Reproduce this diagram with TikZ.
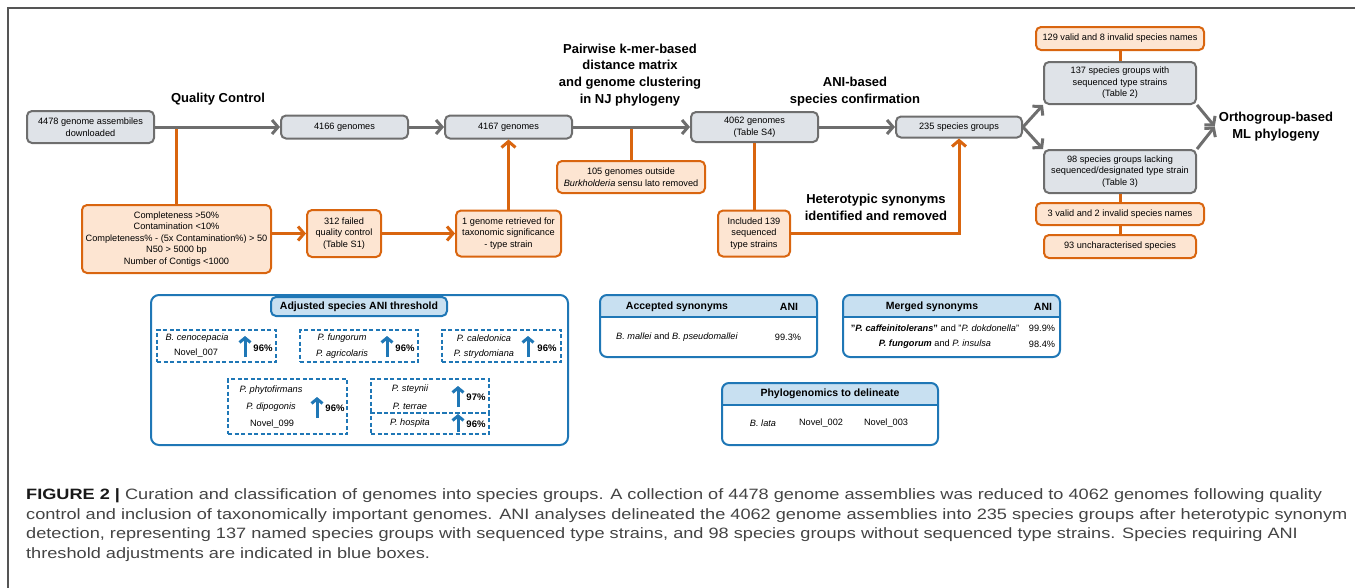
\documentclass[tikz,border=0pt]{standalone}
\usepackage{fontspec}
\setmainfont{Liberation Sans}
\usepackage{graphicx}
\usetikzlibrary{arrows.meta}
\definecolor{gstroke}{HTML}{6E6E6E}
\definecolor{gfill}{HTML}{DFE3E8}
\definecolor{ostroke}{HTML}{D9650F}
\definecolor{ofill}{HTML}{FDE5D2}
\definecolor{bstroke}{HTML}{1F77B6}
\definecolor{bfill}{HTML}{C8E0F1}
\definecolor{capgray}{HTML}{444444}
\definecolor{framecol}{HTML}{555555}
\newlength\capw
\newcommand\capone{\textbf{\color{black!90}FIGURE 2 |} Curation and classification of genomes into species groups. A collection of 4478 genome assemblies was reduced to 4062 genomes following quality}
\newcommand\mytablebox[5]{%
  \begin{scope}
    \clip[rounded corners=7pt] (#1,#2) rectangle (#3,#4);
    \fill[bfill] (#1,#2) rectangle (#3,#5);
  \end{scope}
  \draw[bstroke, line width=2pt] (#1,#5) -- (#3,#5);
  \draw[bstroke, line width=2pt, rounded corners=7pt] (#1,#2) rectangle (#3,#4);}
\tikzset{
  box/.style={rounded corners=5pt, line width=2pt, inner sep=0pt, align=center,
    font=\fontsize{9.2}{11.5}\selectfont},
  gbox/.style={box, draw=gstroke, fill=gfill},
  obox/.style={box, draw=ostroke, fill=ofill},
  garrow/.style={draw=gstroke, line width=3pt, -{Straight Barb[length=6pt,width=14pt]}},
  oline/.style={draw=ostroke, line width=3pt},
  oarrow/.style={oline, -{Straight Barb[length=6pt,width=14pt]}},
  barrow/.style={draw=bstroke, line width=3pt, -{Straight Barb[length=4.5pt,width=11pt]}},
  ttl/.style={font=\fontsize{13}{16.7}\selectfont\bfseries, align=center, inner sep=0pt},
  dbox/.style={draw=bstroke, line width=1.4pt, dash pattern=on 4pt off 2.5pt, inner sep=0pt},
  st/.style={font=\fontsize{9.2}{11}\selectfont, inner sep=0pt},
  it/.style={font=\fontsize{9.2}{11}\selectfont\itshape, inner sep=0pt},
  pct/.style={font=\fontsize{9.5}{11}\selectfont\bfseries, inner sep=0pt},
  hd/.style={font=\fontsize{10.5}{12}\selectfont\bfseries, inner sep=0pt},
  captext/.style={anchor=base west, inner sep=0pt, text=capgray},
}
\begin{document}
\settowidth{\capw}{\fontsize{15}{19}\selectfont\capone}
\pgfmathsetmacro\capsx{1296/\capw}
\begin{tikzpicture}[x=1pt,y=-1pt]
\useasboundingbox (0,0) rectangle (1355,587);
\draw[framecol, line width=1.2pt] (8,590) -- (8,8) -- (1360,8);

% --- top flow ---
\node[gbox, minimum width=127pt, minimum height=32pt] (A) at (90.5,127) {4478 genome assembiles\\downloaded};
\node[gbox, minimum width=127pt, minimum height=23pt] (B) at (344.5,127) {4166 genomes};
\node[gbox, minimum width=127pt, minimum height=23pt] (C) at (508.5,127) {4167 genomes};
\node[gbox, minimum width=127pt, minimum height=30pt] (D) at (754.5,127) {4062 genomes\\(Table S4)};
\node[gbox, minimum width=126pt, minimum height=21pt] (E) at (959,127) {235 species groups};
\node[gbox, minimum width=152pt, minimum height=42pt] (F) at (1120,83) {137 species groups with\\sequenced type strains\\(Table 2)};
\node[gbox, minimum width=152pt, minimum height=43pt] (G) at (1120,171.5) {98 species groups lacking\\sequenced/designated type strain\\(Table 3)};
\node[obox, minimum width=168pt, minimum height=23pt] (T129) at (1120,38.5) {129 valid and 8 invalid species names};
\node[obox, minimum width=168pt, minimum height=22pt] (V3) at (1120,214) {3 valid and 2 invalid species names};
\node[obox, minimum width=152pt, minimum height=23pt] (U93) at (1120,246.5) {93 uncharacterised species};

\node[obox, minimum width=189pt, minimum height=68pt] (QC) at (176.5,239) {Completeness >50\%\\Contamination <10\%\\Completeness\% - (5x Contamination\%) > 50\\N50 > 5000 bp\\Number of Contigs <1000};
\node[obox, minimum width=74pt, minimum height=47pt] (S312) at (344,233.5) {312 failed\\quality control\\(Table S1)};
\node[obox, minimum width=105pt, minimum height=46pt] (R1) at (508.5,233.5) {1 genome retrieved for\\taxonomic significance\\- type strain};
\node[obox, minimum width=148pt, minimum height=32pt] (N105) at (631,177) {105 genomes outside\\\textit{Burkholderia} sensu lato removed};
\node[obox, minimum width=72pt, minimum height=46pt] (Inc) at (754,233.5) {Included 139\\sequenced\\type strains};

\node[ttl] (QCt) at (218,99) {Quality Control};
\node[ttl] (PW) at (630,75) {Pairwise k-mer-based\\distance matrix\\and genome clustering\\in NJ phylogeny};
\node[ttl] (ANIt) at (855,91.5) {ANI-based\\species confirmation};
\node[ttl] (Het) at (876,207.5) {Heterotypic synonyms\\identified and removed};
\node[ttl, inner sep=4pt] (Orth) at (1276,126.5) {Orthogroup-based\\ML phylogeny};

% orange connectors
\draw[oline] (QC.north) -- (QC.north |- A.east);
\draw[oarrow] (QC.east |- S312.west) -- (S312.west);
\draw[oarrow] (S312.east) -- (R1.west);
\draw[oarrow] (R1.north) -- (C.south);
\draw[oline] (N105.north) -- (N105.north |- C.east);
\draw[oline] (Inc.north) -- (Inc.north |- D.south);
\draw[oarrow] (Inc.east) -| (E.south);
\draw[oline] (T129.south) -- (F.north);
\draw[oline] (G.south) -- (V3.north);
\draw[oline] (V3.south) -- (U93.north);

% grey connectors
\draw[garrow] (A.east) -- (B.west);
\draw[garrow] (B.east) -- (C.west);
\draw[garrow] (C.east) -- (D.west);
\draw[garrow] (D.east) -- (E.west);
\draw[garrow] (E.east) -- (F.south west);
\draw[garrow] (E.east) -- (G.north west);
\draw[garrow] (F.south east) -- (Orth.west);
\draw[garrow] (G.north east) -- (Orth.west);

% --- adjusted species ANI threshold panel ---
\node[draw=bstroke, line width=2pt, rounded corners=8pt, minimum width=417pt, minimum height=150pt, inner sep=0pt] (P1) at (359.5,370) {};
\node[draw=bstroke, fill=bfill, line width=2pt, rounded corners=5pt, minimum width=176pt, minimum height=19pt, inner sep=0pt, font=\fontsize{10.5}{12}\selectfont\bfseries] (P1h) at (359,306.5) {Adjusted species ANI threshold};

\node[dbox, minimum width=119pt, minimum height=32pt] (D1) at (216.5,346) {};
\node[dbox, minimum width=118pt, minimum height=32pt] (D2) at (359,346) {};
\node[dbox, minimum width=119pt, minimum height=32pt] (D3) at (501.5,346) {};
\node[dbox, minimum width=119pt, minimum height=55pt] (D4) at (287.5,406.5) {};
\node[dbox, minimum width=118pt, minimum height=34pt] (D5) at (430,396) {};
\node[dbox, minimum width=118pt, minimum height=21pt] (D6) at (430,423.5) {};

\node[it] at (197,338) {B. cenocepacia};
\node[st] at (196,353.5) {Novel\_007};
\draw[barrow] (245,357) -- (245,336);
\node[pct] at (263,348) {96\%};

\node[it] at (342,338) {P. fungorum};
\node[it] at (342,354) {P. agricolaris};
\draw[barrow] (387,357) -- (387,336);
\node[pct] at (405,348) {96\%};

\node[it] at (484,338) {P. caledonica};
\node[it] at (484,354) {P. strydomiana};
\draw[barrow] (528,357) -- (528,336);
\node[pct] at (547,348) {96\%};

\node[it] at (271,390) {P. phytofirmans};
\node[it] at (271,407) {P. dipogonis};
\node[st] at (272,424) {Novel\_099};
\draw[barrow] (317,418) -- (317,397);
\node[pct] at (335,408) {96\%};

\node[it] at (410,389) {P. steynii};
\node[it] at (410,406) {P. terrae};
\draw[barrow] (458,407) -- (458,386);
\node[pct] at (476,397) {97\%};

\node[it] at (410,423) {P. hospita};
\draw[barrow] (458,432) -- (458,414);
\node[pct] at (476,424.5) {96\%};

% --- tables ---
\mytablebox{600}{295}{817}{357}{317}
\node[hd] at (677,306.5) {Accepted synonyms};
\node[hd] at (789,306.5) {ANI};
\node[st] at (677,337.5) {\textit{B. mallei} and \textit{B. pseudomallei}};
\node[st] at (788,337.5) {99.3\%};

\mytablebox{843}{295}{1060}{357}{317}
\node[hd] at (932,306.5) {Merged synonyms};
\node[hd] at (1043,306.5) {ANI};
\node[st] at (935,328) {\textbf{"\textit{P. caffeinitolerans}"} and "\textit{P. dokdonella}"};
\node[st] at (1042,328) {99.9\%};
\node[st] at (935,344.5) {\textbf{\textit{P. fungorum}} and \textit{P. insulsa}};
\node[st] at (1042,344.5) {98.4\%};

\mytablebox{722}{383}{938}{445}{405}
\node[hd] at (830,394) {Phylogenomics to delineate};
\node[it] at (763,423) {B. lata};
\node[st] at (821,423) {Novel\_002};
\node[st] at (886,423) {Novel\_003};

% --- caption ---
\node[captext] (cap1) at (26,499) {\scalebox{\capsx}[1]{\fontsize{15}{19}\selectfont\capone}};
\node[captext] (cap2) at (26,519) {\scalebox{\capsx}[1]{\fontsize{15}{19}\selectfont control and inclusion of taxonomically important genomes. ANI analyses delineated the 4062 genome assemblies into 235 species groups after heterotypic synonym}};
\node[captext] (cap3) at (26,538.5) {\scalebox{\capsx}[1]{\fontsize{15}{19}\selectfont detection, representing 137 named species groups with sequenced type strains, and 98 species groups without sequenced type strains. Species requiring ANI}};
\node[captext] (cap4) at (26,558) {\scalebox{\capsx}[1]{\fontsize{15}{19}\selectfont threshold adjustments are indicated in blue boxes.}};
\end{tikzpicture}
\end{document}
